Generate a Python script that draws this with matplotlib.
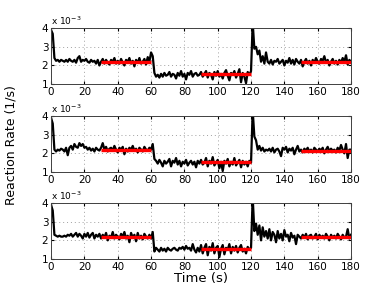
import numpy as np
import matplotlib
matplotlib.use("Agg")
import matplotlib.pyplot as plt

# reaction rate traces, in units of 1e-3 1/s, sampled every second
time = np.arange(0, 181)

rate_a = [3.9, 3.7, 2.4, 2.25, 2.3, 2.2, 2.3, 2.25, 2.2, 2.3,
          2.2, 2.35, 2.25, 2.2, 2.3, 2.15, 2.4, 2.5, 2.2, 2.3,
          2.25, 2.35, 2.2, 2.15, 2.3, 2.2, 2.25, 2.1, 2.3, 2.0,
          2.2, 2.35, 2.1, 2.3, 2.15, 2.05, 2.3, 2.2, 2.4, 2.1,
          2.25, 2.1, 2.35, 2.15, 2.0, 2.3, 2.2, 2.4, 2.1, 2.25,
          1.95, 2.3, 2.15, 2.4, 2.1, 2.2, 2.35, 2.05, 2.45, 2.2,
          2.7, 2.5, 1.6, 1.4, 1.5, 1.35, 1.55, 1.4, 1.6, 1.45,
          1.5, 1.65, 1.4, 1.55, 1.5, 1.3, 1.6, 1.45, 1.7, 1.4,
          1.55, 1.25, 1.6, 1.5, 1.7, 1.4, 1.55, 1.6, 1.45, 1.5,
          1.65, 1.4, 1.55, 1.7, 1.35, 1.6, 1.5, 1.25, 1.65, 1.45,
          1.7, 1.4, 1.55, 1.3, 1.6, 1.75, 1.45, 1.2, 1.6, 1.5,
          1.7, 1.35, 1.55, 1.8, 1.1, 1.6, 1.4, 1.05, 1.65, 1.5,
          1.7, 4.3, 2.9, 3.0, 2.6, 2.8, 2.2, 2.5, 2.1, 2.7,
          2.2, 2.1, 2.3, 2.05, 2.25, 2.2, 2.35, 2.1, 2.2, 2.3,
          2.0, 2.25, 2.15, 2.4, 2.1, 2.3, 2.05, 2.35, 2.2, 2.1,
          2.3, 1.95, 2.2, 2.35, 2.1, 2.25, 2.0, 2.3, 2.15, 2.4,
          2.2, 2.1, 2.35, 2.25, 2.5, 2.15, 2.3, 2.0, 2.2, 2.35,
          2.1, 2.25, 2.05, 2.3, 2.15, 2.4, 2.2, 2.55, 2.05, 2.3,
          2.2]

rate_b = [3.9, 3.6, 2.2, 2.1, 2.2, 2.15, 2.25, 2.2, 2.1, 2.3,
          1.9, 2.3, 2.4, 2.2, 2.5, 2.35, 2.3, 2.55, 2.4, 2.5,
          2.3, 2.35, 2.2, 2.3, 2.15, 2.25, 2.1, 2.3, 2.2, 2.15,
          2.3, 2.55, 2.2, 2.35, 2.1, 2.25, 2.3, 2.15, 2.4, 2.2,
          2.05, 2.3, 2.2, 2.35, 1.95, 2.25, 2.1, 2.3, 2.2, 2.4,
          2.15, 2.25, 2.05, 2.3, 2.2, 2.1, 2.35, 2.2, 2.15, 2.3,
          2.2, 2.5, 1.7, 1.6, 1.45, 1.65, 1.5, 1.3, 1.6, 1.45,
          1.55, 1.7, 1.3, 1.6, 1.5, 1.75, 1.4, 1.6, 1.3, 1.55,
          1.45, 1.65, 1.35, 1.5, 1.6, 1.4, 1.55, 1.25, 1.6, 1.45,
          1.65, 1.4, 1.5, 1.75, 1.3, 1.6, 1.45, 1.8, 1.35, 1.5,
          1.65, 1.2, 1.55, 1.05, 1.6, 1.45, 1.7, 1.3, 1.55, 1.4,
          1.75, 1.35, 1.5, 1.65, 1.25, 1.6, 1.4, 1.55, 1.3, 1.6,
          1.5, 4.3, 2.9, 2.7, 2.2, 2.4, 2.15, 2.3, 2.1, 2.2,
          2.15, 2.25, 2.1, 2.3, 2.05, 2.2, 2.25, 2.1, 1.85, 2.3,
          2.2, 2.35, 2.05, 2.25, 2.15, 2.3, 1.95, 2.2, 2.4, 2.1,
          2.2, 2.05, 2.25, 2.15, 2.3, 2.1, 2.2, 2.05, 2.3, 2.2,
          2.1, 2.25, 2.15, 2.3, 2.0, 2.2, 2.35, 2.1, 2.25, 2.15,
          2.2, 2.05, 2.3, 2.15, 2.45, 2.2, 2.0, 2.5, 1.75, 2.2,
          2.2]

rate_c = [3.9, 3.6, 2.3, 2.25, 2.2, 2.25, 2.2, 2.2, 2.25, 2.2,
          2.3, 2.25, 2.35, 2.2, 2.3, 2.4, 2.2, 2.35, 2.25, 2.1,
          2.35, 2.2, 2.4, 2.15, 2.3, 2.4, 2.1, 2.3, 2.2, 2.35,
          2.1, 2.3, 2.15, 2.4, 2.0, 2.25, 2.15, 2.45, 2.1, 2.3,
          2.2, 2.05, 2.35, 2.2, 2.45, 2.1, 2.25, 1.9, 2.4, 2.15,
          2.3, 1.95, 2.4, 2.1, 2.25, 2.05, 2.35, 2.2, 2.1, 2.3,
          2.1, 2.45, 1.4, 1.6, 1.5, 1.4, 1.6, 1.45, 1.55, 1.4,
          1.6, 1.5, 1.45, 1.55, 1.6, 1.5, 1.45, 1.6, 1.55, 1.65,
          1.5, 1.7, 1.55, 1.6, 1.45, 1.8, 1.5, 1.35, 1.6, 1.4,
          1.75, 1.3, 1.6, 1.8, 1.2, 1.65, 1.45, 1.85, 1.3, 1.6,
          1.7, 1.1, 1.55, 1.75, 1.25, 1.6, 1.5, 1.8, 1.3, 1.65,
          1.45, 1.7, 1.35, 1.6, 1.75, 1.4, 1.55, 1.3, 1.65, 1.5,
          1.6, 4.3, 2.5, 2.9, 2.3, 2.8, 2.0, 2.7, 2.2, 2.5,
          2.1, 2.6, 2.0, 2.45, 2.3, 1.9, 2.5, 2.1, 2.35, 2.0,
          2.55, 2.2, 2.3, 1.95, 2.4, 2.15, 2.25, 1.8, 2.3, 2.2,
          2.1, 2.3, 2.15, 2.35, 2.05, 2.25, 2.3, 2.1, 2.2, 2.35,
          2.05, 2.3, 2.15, 2.25, 2.1, 2.35, 2.2, 2.0, 2.3, 2.15,
          2.25, 2.1, 2.35, 2.2, 2.05, 2.3, 2.15, 2.2, 2.6, 2.1,
          2.3]

# steady-state fits (red segments)
fit_start = [30, 90, 150]
fit_end = [60, 120, 180]
fit_a = [2.2, 1.55, 2.2]
fit_b = [2.2, 1.52, 2.15]
fit_c = [2.2, 1.55, 2.2]

traces = [rate_a, rate_b, rate_c]
fits = [fit_a, fit_b, fit_c]

fig = plt.figure(figsize=(3.87, 2.91), dpi=100)
bottoms = [0.711, 0.409, 0.110]

for i, (rate, fit) in enumerate(zip(traces, fits)):
    ax = fig.add_axes([0.132, bottoms[i], 0.775, 0.192])
    ax.plot(time, rate, color='black', lw=1.6)
    ax.hlines(fit, fit_start, fit_end, colors='red', lw=2.4, zorder=3)
    ax.set_xlim(0, 180)
    ax.set_ylim(1, 4)
    ax.set_xticks(np.arange(0, 181, 20))
    ax.set_yticks([1, 2, 3, 4])
    ax.grid(True, linestyle=(0, (1, 3)), color='#a0a0a0', lw=0.7)
    ax.tick_params(direction='in', labelsize=7.5, length=2.5, pad=2,
                   top=True, right=True)
    for sp in ax.spines.values():
        sp.set_color('#404040')
        sp.set_linewidth(0.7)
    ax.text(0, 1.06, r'x 10$^{-3}$', transform=ax.transAxes, fontsize=6.5)
    if i == 2:
        ax.set_xlabel('Time (s)', fontsize=9.5, labelpad=0)

fig.text(0.028, 0.5, 'Reaction Rate (1/s)', rotation=90, va='center',
         ha='center', fontsize=9)

fig.savefig('out.png', dpi=100)
